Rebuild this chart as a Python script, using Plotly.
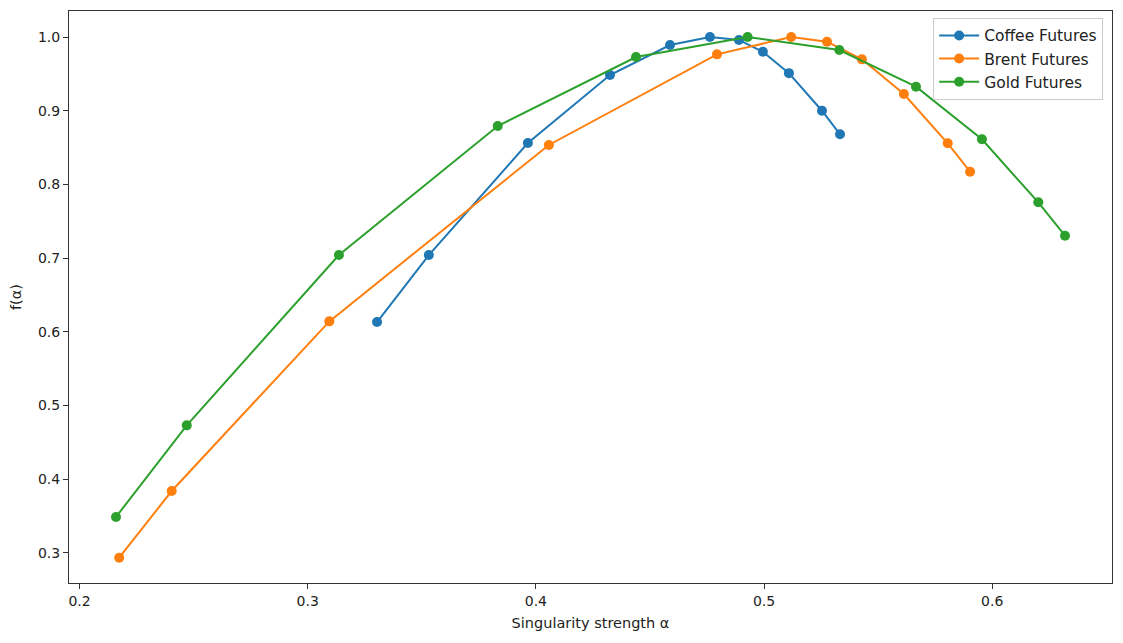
import plotly.graph_objects as go

coffee_alpha = [0.3304, 0.3531, 0.3965, 0.4325, 0.4588, 0.4763, 0.4890, 0.4995, 0.5109, 0.5254, 0.5333]
coffee_f = [0.6133, 0.7042, 0.8562, 0.9484, 0.9891, 1.0, 0.996, 0.980, 0.951, 0.900, 0.868]

brent_alpha = [0.2174, 0.2404, 0.3095, 0.4057, 0.4794, 0.5119, 0.5276, 0.5429, 0.5613, 0.5805, 0.5903]
brent_f = [0.2935, 0.384, 0.6142, 0.8535, 0.9765, 1.0, 0.9936, 0.9697, 0.9227, 0.8558, 0.8172]

gold_alpha = [0.2160, 0.2470, 0.3137, 0.3833, 0.4439, 0.4928, 0.5330, 0.5666, 0.5955, 0.6202, 0.6319]
gold_f = [0.3488, 0.4731, 0.7042, 0.8792, 0.9729, 1.0, 0.9824, 0.9326, 0.8612, 0.7757, 0.7304]

series = [
    ("Coffee Futures", coffee_alpha, coffee_f, "#1f77b4"),
    ("Brent Futures", brent_alpha, brent_f, "#ff7f0e"),
    ("Gold Futures", gold_alpha, gold_f, "#2ca02c"),
]

fig = go.Figure()
for name, xs, ys, c in series:
    fig.add_trace(go.Scatter(x=xs, y=ys, mode="lines+markers", name=name,
                             legendgroup=name,
                             line=dict(color=c, width=2),
                             marker=dict(color=c, size=10)))

axis_common = dict(showgrid=False, zeroline=False, showline=True, linecolor="#333333",
                   linewidth=1, mirror=True, ticks="outside", ticklen=5, tickcolor="#333333",
                   tickfont=dict(family="DejaVu Sans", size=14, color="#222222"))

fig.update_layout(
    width=1123, height=643,
    margin=dict(l=69, r=11, t=11, b=60),
    paper_bgcolor="white", plot_bgcolor="white",
    font=dict(family="DejaVu Sans", size=14, color="#222222"),
    xaxis=dict(range=[0.1954, 0.6525], tickvals=[0.2, 0.3, 0.4, 0.5, 0.6],
               ticktext=["0.2", "0.3", "0.4", "0.5", "0.6"],
               title=dict(text="Singularity strength α", font=dict(size=14.5), standoff=10),
               **axis_common),
    yaxis=dict(range=[0.2592, 1.0353], tickvals=[0.3, 0.4, 0.5, 0.6, 0.7, 0.8, 0.9, 1.0],
               ticktext=["0.3", "0.4", "0.5", "0.6", "0.7", "0.8", "0.9", "1.0"],
               title=dict(text="f(α)", font=dict(size=14.5), standoff=12),
               **axis_common),
    legend=dict(x=0.9915, y=0.988, xanchor="right", yanchor="top",
                bgcolor="rgba(255,255,255,0.8)", bordercolor="#cccccc", borderwidth=1,
                font=dict(family="DejaVu Sans", size=15.5, color="#222222"),
                traceorder="grouped", tracegroupgap=0,
                itemwidth=40),
    showlegend=True,
)

fig.write_html("out.html")
